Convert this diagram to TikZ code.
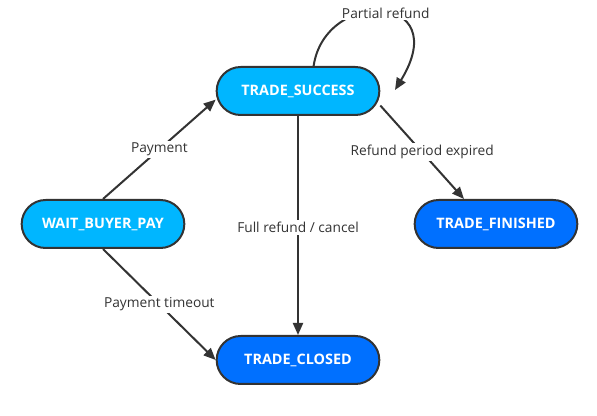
\documentclass[tikz,border=0pt]{standalone}
\usepackage{fontspec}
\setmainfont{Open Sans}
\usepackage{tikz}
\usetikzlibrary{arrows.meta}

\definecolor{cyanst}{RGB}{0,182,255}
\definecolor{bluest}{RGB}{0,112,255}
\definecolor{edgegray}{RGB}{51,51,51}

\begin{document}
\begin{tikzpicture}[
    x=0.75pt, y=-0.75pt,
    state/.style={draw=edgegray, line width=1.5pt, rectangle, rounded corners=18pt, align=center, minimum width=122pt, minimum height=36pt, text=white, font=\bfseries\fontsize{10.8}{12}\selectfont},
    light/.style={fill=cyanst},
    dark/.style={fill=bluest},
    arrow/.style={-{Triangle[length=9pt, width=7.5pt]}, draw=edgegray, line width=1.5pt},
    lbl/.style={fill=white, inner sep=1.5pt, text=edgegray, font=\fontsize{10.3}{12}\selectfont}
]
\useasboundingbox (0,0) rectangle (597,416);
% states
\node[state, light] (succ) at (298,91) {TRADE\_SUCCESS};
\node[state, light] (wait) at (103,224) {WAIT\_BUYER\_PAY};
\node[state, dark] (fin) at (496,224) {TRADE\_FINISHED};
\node[state, dark] (clos) at (298,360) {TRADE\_CLOSED};
% free end of the self loop
\coordinate (loopend) at (395,90);
% --- Arrows / Connections ---
\draw[arrow] (wait.north) -- node[lbl] {Payment} (succ.186);
\draw[arrow] (wait.south) -- node[lbl] {Payment timeout} (clos.west);
\draw[arrow] (succ.south) -- node[lbl, pos=0.51] {Full refund / cancel} (clos.north);
\draw[arrow] (succ.-10) -- node[lbl] {Refund period expired} (fin.142);
% self loop
\draw[arrow] (succ.58) .. controls (325,-12) and (455,-8) .. node[lbl, pos=0.53] {Partial refund} (loopend);
\end{tikzpicture}
\end{document}
